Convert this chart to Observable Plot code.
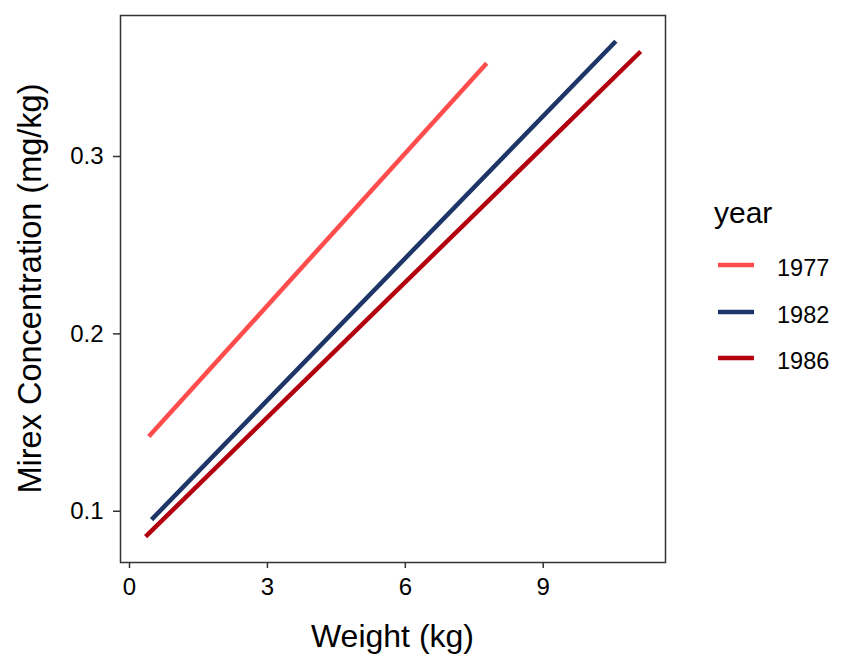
<!DOCTYPE html>
<html>
<head>
<meta charset="utf-8">
<script src="https://cdn.jsdelivr.net/npm/d3@7"></script>
<script src="https://cdn.jsdelivr.net/npm/@observablehq/plot@0.6"></script>
<style>
  html, body { margin: 0; padding: 0; background: #fff; }
  #chart { width: 864px; height: 672px; }
  svg { font-family: "Liberation Sans", Arial, sans-serif; }
</style>
</head>
<body>
<div id="chart"></div>
<script>
const years = ["1977", "1982", "1986"];
const colors = ["#FF4D4D", "#1D3667", "#B3000F"];
const weightStart = [0.42, 0.48, 0.35];
const weightEnd = [7.77, 10.58, 11.12];
const mirexStart = [0.1421, 0.0953, 0.0857];
const mirexEnd = [0.3526, 0.365, 0.3592];
const xTicks = [0, 3, 6, 9];
const yTicks = [0.1, 0.2, 0.3];
const xTitle = "Weight (kg)";
const yTitle = "Mirex Concentration (mg/kg)";
const legendTitle = "year";

const data = years.flatMap((yr, i) => [
  {year: yr, w: weightStart[i], c: mirexStart[i]},
  {year: yr, w: weightEnd[i], c: mirexEnd[i]}
]);

const W = 864, H = 672;
const mL = 120, mR = 199, mT = 15, mB = 110;

const plot = Plot.plot({
  width: W,
  height: H,
  marginLeft: mL,
  marginRight: mR,
  marginTop: mT,
  marginBottom: mB,
  style: {fontFamily: '"Liberation Sans", Arial, sans-serif', background: "#fff", color: "#000"},
  x: {domain: [-0.196, 11.66]},
  y: {domain: [0.0711, 0.3795]},
  color: {domain: years, range: colors},
  marks: [
    Plot.line(data, {x: "w", y: "c", z: "year", stroke: "year", strokeWidth: 4.5, strokeLinecap: "butt"}),
    Plot.frame({stroke: "#333", strokeWidth: 1.5}),
    Plot.axisX({ticks: xTicks, tickSize: 6, tickPadding: 9, fontSize: 24, stroke: "#333", strokeWidth: 1.5, fill: "#000", label: null}),
    Plot.axisY({ticks: yTicks, tickFormat: d3.format(".1f"), tickSize: 7, tickPadding: 10, fontSize: 24, stroke: "#333", strokeWidth: 1.5, fill: "#000", label: null})
  ]
});

document.getElementById("chart").appendChild(plot);

const svg = d3.select(plot);
svg.selectAll('g[aria-label="x-axis tick label"], g[aria-label="y-axis tick label"]')
  .attr("font-size", 24)
  .style("font-size", "24px");
svg.selectAll('g[aria-label="x-axis tick label"] text, g[aria-label="y-axis tick label"] text')
  .attr("font-size", 24)
  .style("font-size", "24px");

// axis titles
svg.append("text")
  .attr("x", (mL + (W - mR)) / 2)
  .attr("y", 647)
  .attr("text-anchor", "middle")
  .attr("font-size", 32)
  .attr("fill", "#000")
  .text(xTitle);
svg.append("text")
  .attr("transform", `translate(41,${(mT + (H - mB)) / 2}) rotate(-90)`)
  .attr("text-anchor", "middle")
  .attr("font-size", 32.5)
  .attr("fill", "#000")
  .text(yTitle);

// legend
const lg = svg.append("g").attr("text-anchor", "start");
lg.append("text")
  .attr("x", 714)
  .attr("y", 223)
  .attr("text-anchor", "start")
  .attr("font-size", 30)
  .attr("fill", "#000")
  .text(legendTitle);
const legendY = [265, 312, 358];
years.forEach((yr, i) => {
  lg.append("line")
    .attr("x1", 718).attr("x2", 754)
    .attr("y1", legendY[i]).attr("y2", legendY[i])
    .attr("stroke", colors[i])
    .attr("stroke-width", 4.5);
  lg.append("text")
    .attr("x", 777)
    .attr("y", legendY[i] + 11)
    .attr("text-anchor", "start")
    .attr("font-size", 23.5)
    .attr("fill", "#000")
    .text(yr);
});
</script>
</body>
</html>
